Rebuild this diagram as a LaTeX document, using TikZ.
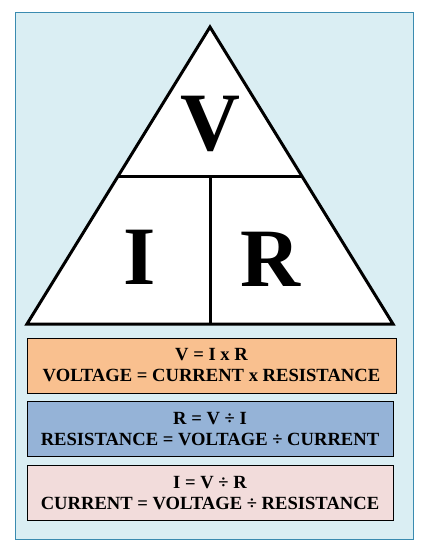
\documentclass[tikz,border=0pt]{standalone}
\usepackage{fontspec}
\setmainfont{Liberation Serif}
\usetikzlibrary{positioning,calc}
\definecolor{bgblue}{HTML}{DAEEF3}
\definecolor{framecol}{HTML}{3A8BB0}
\definecolor{boxorange}{HTML}{F9C08F}
\definecolor{boxblue}{HTML}{95B3D7}
\definecolor{boxpink}{HTML}{F2DCDB}
\begin{document}
\begin{tikzpicture}[x=1pt,y=-1pt]
\tikzstyle{formula}=[draw=black, line width=0.8pt, minimum width=366pt, minimum height=55pt, align=center, inner sep=0pt, font=\bfseries\fontsize{18.6}{21}\selectfont]
\tikzstyle{letter}=[inner sep=0pt, font=\bfseries\fontsize{83}{83}\selectfont]
\useasboundingbox (0,0) rectangle (428,556);
% frame
\draw [framecol, fill=bgblue, line width=1pt] (15,13) rectangle (413,539);
% triangle
\coordinate (apex) at (210,27);
\coordinate (bl) at (27,324);
\coordinate (br) at (393,324);
\coordinate (lmid) at ($(apex)!0.505!(bl)$);
\coordinate (rmid) at ($(apex)!0.505!(br)$);
\draw [black, fill=white, line width=3pt, line join=miter] (apex) -- (br) -- (bl) -- cycle;
\draw [black, line width=3pt] (lmid) -- (rmid);
\draw [black, line width=3pt] ($(lmid)!0.5!(rmid)$) -- ($(bl)!0.5!(br)$);
\node [letter] (v) at (210,124) {V};
\node [letter] (i) at (140,257) {I};
\node [letter] (r) at (270,259) {R};
% formula boxes
\node [formula, fill=boxorange, minimum width=369pt] (vbox) at (211.5,365.5) {V = I x R\\VOLTAGE = CURRENT x RESISTANCE};
\node [formula, fill=boxblue, below=8pt of vbox.south west, anchor=north west] (rbox) {R = V ÷ I\\RESISTANCE = VOLTAGE ÷ CURRENT};
\node [formula, fill=boxpink, below=8pt of rbox] (ibox) {I = V ÷ R\\CURRENT = VOLTAGE ÷ RESISTANCE};
\end{tikzpicture}
\end{document}
